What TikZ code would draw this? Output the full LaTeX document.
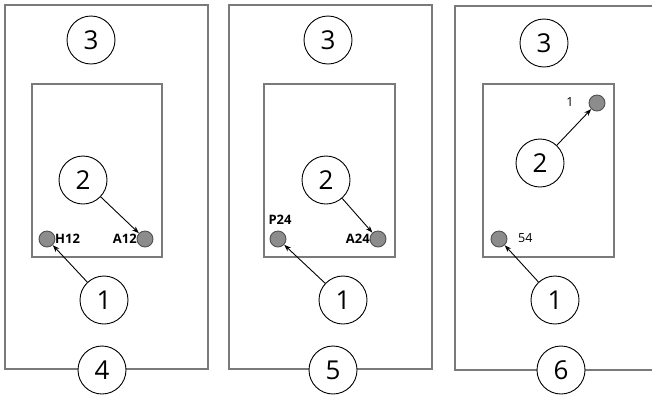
\documentclass[tikz,border=0pt]{standalone}
\usepackage{fontspec}
\setmainfont{Open Sans}
\usetikzlibrary{arrows.meta}
\definecolor{framegray}{HTML}{7A7A7A}
\definecolor{dotfill}{HTML}{8C8C8C}
\definecolor{dotline}{HTML}{505050}
\begin{document}
\begin{tikzpicture}[x=1pt,y=-1pt,
  frame/.style={draw=framegray, line width=1.8pt},
  inner/.style={draw=framegray, line width=1.2pt},
  callout/.style={circle, draw=black, line width=0.9pt, fill=white,
    minimum size=48pt, inner sep=0pt, font=\fontsize{26}{26}\selectfont},
  pin/.style={circle, draw=dotline, line width=0.9pt, fill=dotfill,
    minimum size=16pt, inner sep=0pt},
  tag/.style={inner sep=0pt, font=\fontsize{13}{13}\selectfont\bfseries},
  num/.style={inner sep=0pt, font=\fontsize{12.5}{12.5}\selectfont},
  pointer/.style={draw=black, line width=0.9pt, -{Stealth[length=7pt,width=5pt]}}]
\useasboundingbox (0,0) rectangle (652,397);

% ---- plate 1 ----
\draw[frame] (5,5) rectangle (208,369);
\draw[inner] (32,84) rectangle (162,257);
\node[callout] (a3) at (91,40) {3};
\node[callout] (a2) at (83,180) {2};
\node[callout] (a1) at (104,300) {1};
\node[callout] (a4) at (102,370) {4};
\node[pin] (aH) at (47,239) {};
\node[pin] (aA) at (145,239) {};
\node[tag, anchor=west] (aHt) at (55,239) {H12};
\node[tag, anchor=east] (aAt) at (137,239) {A12};
\draw[pointer] (a2) -- (aA);
\draw[pointer] (a1) -- (aH);

% ---- plate 2 ----
\draw[frame] (229,5) rectangle (432,369);
\draw[inner] (264,84) rectangle (395,257);
\node[callout] (b3) at (328,40) {3};
\node[callout] (b2) at (326,180) {2};
\node[callout] (b1) at (343,300) {1};
\node[callout] (b5) at (333,370) {5};
\node[pin] (bP) at (278,239) {};
\node[pin] (bA) at (378,239) {};
\node[tag] (bPt) at (280,220) {P24};
\node[tag, anchor=east] (bAt) at (370,239) {A24};
\draw[pointer] (b2) -- (bA);
\draw[pointer] (b1) -- (bP);

% ---- plate 3 (open to the right) ----
\draw[frame] (653,6) -- (455,6) -- (455,370) -- (653,370);
\draw[inner] (483,84) rectangle (614,257);
\node[callout] (c3) at (544,43) {3};
\node[callout] (c2) at (540,163) {2};
\node[callout] (c1) at (555,300) {1};
\node[callout] (c6) at (561,370) {6};
\node[pin] (cT) at (597,103) {};
\node[pin] (cB) at (499,239) {};
\node[num] (cTt) at (570,102) {1};
\node[num, anchor=west] (cBt) at (518,238) {54};
\draw[pointer] (c2) -- (cT);
\draw[pointer] (c1) -- (cB);
\end{tikzpicture}
\end{document}
